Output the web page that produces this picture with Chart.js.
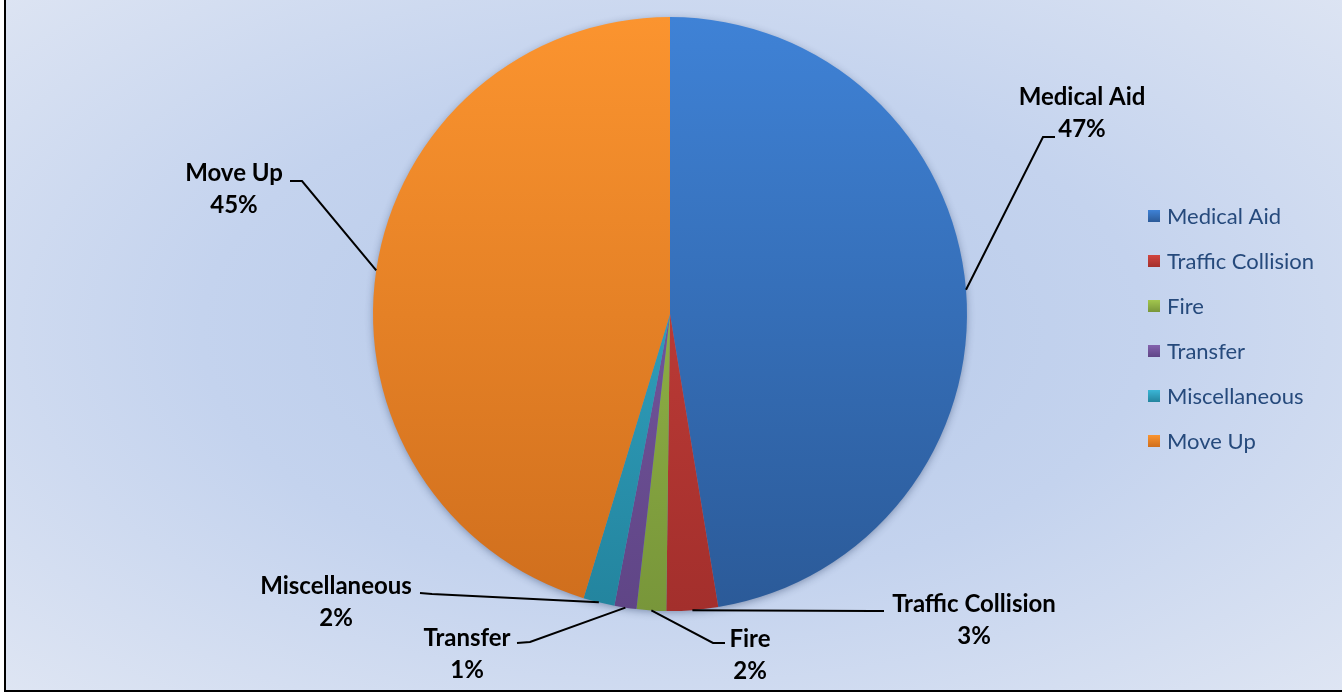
<!DOCTYPE html>
<html>
<head>
<meta charset="utf-8">
<script src="https://cdn.jsdelivr.net/npm/chart.js@4.4.0/dist/chart.umd.min.js"></script>
<style>
    html, body { margin: 0; padding: 0; background: #ffffff; }
    body { width: 1344px; height: 694px; position: relative; overflow: hidden; }
    #frame {
        position: absolute; left: 4px; top: 0; width: 1336px; height: 690px;
        border-left: 2px solid #000; border-bottom: 2px solid #000;
        background: radial-gradient(ellipse farthest-corner at 50% 48%, #b6c9e9 0%, #c4d3ee 50%, #dee5f3 100%);
    }
    #chart { position: absolute; left: 0; top: 0; }
</style>
</head>
<body>
<div id="frame"></div>
<canvas id="chart" width="1344" height="694"></canvas>
<script>
// Data (share of calls, %)
const categories = ['Medical Aid', 'Traffic Collision', 'Fire', 'Transfer', 'Miscellaneous', 'Move Up'];
const shares = [47.4, 2.8, 1.6, 1.2, 1.7, 45.3];

// Slice colours: [top, bottom] of the vertical gradient
const sliceColors = [
    ['#3f82d6', '#2b5a98'],
    ['#d2453f', '#a32f2c'],
    ['#a2c64e', '#78963a'],
    ['#8462ad', '#5f4586'],
    ['#3bb6d6', '#23849e'],
    ['#fb942f', '#cf6e1d']
];

// Where each outside label sits: first-line baseline, and leader elbow/end
const labelLayout = [
    { x: 1082, y: 105, elbow: [1043, 137], end: [1055, 137] },
    { x: 974, y: 612, elbow: [872, 611], end: [884, 611] },
    { x: 750, y: 647, elbow: [713, 643], end: [725, 643] },
    { x: 467, y: 646, elbow: [530, 642], end: [517, 643] },
    { x: 336, y: 594, elbow: [432, 594], end: [420, 593] },
    { x: 234, y: 181, elbow: [302, 181], end: [290, 181] }
];
const lineGap = 32;

const total = shares.reduce((a, b) => a + b, 0);

function sliceFill(context) {
    const chart = context.chart;
    const area = chart.chartArea;
    const pair = sliceColors[context.dataIndex];
    if (!area) return pair[0];
    const g = chart.ctx.createLinearGradient(0, area.top, 0, area.bottom);
    g.addColorStop(0, pair[0]);
    g.addColorStop(1, pair[1]);
    return g;
}

// soft shadow under the whole pie
const pieShadow = {
    id: 'pieShadow',
    beforeDatasetsDraw(chart) {
        const arc = chart.getDatasetMeta(0).data[0];
        if (!arc) return;
        const ctx = chart.ctx;
        ctx.save();
        ctx.shadowColor = 'rgba(20, 40, 80, 0.45)';
        ctx.shadowBlur = 8;
        ctx.shadowOffsetY = 2;
        ctx.fillStyle = '#6f8fbf';
        ctx.beginPath();
        ctx.arc(arc.x, arc.y, arc.outerRadius - 1, 0, Math.PI * 2);
        ctx.fill();
        ctx.restore();
    }
};

// outside labels with leader lines
const outsideLabels = {
    id: 'outsideLabels',
    afterDatasetsDraw(chart) {
        const ctx = chart.ctx;
        const arcs = chart.getDatasetMeta(0).data;
        ctx.save();
        arcs.forEach((arc, i) => {
            const lay = labelLayout[i];
            const mid = (arc.startAngle + arc.endAngle) / 2;
            const px = arc.x + Math.cos(mid) * arc.outerRadius;
            const py = arc.y + Math.sin(mid) * arc.outerRadius;
            ctx.strokeStyle = '#000';
            ctx.lineWidth = 2;
            ctx.beginPath();
            ctx.moveTo(px, py);
            ctx.lineTo(lay.elbow[0], lay.elbow[1]);
            ctx.lineTo(lay.end[0], lay.end[1]);
            ctx.stroke();

            ctx.fillStyle = '#000';
            ctx.font = 'bold 24px Lato';
            ctx.textAlign = 'center';
            ctx.textBaseline = 'alphabetic';
            ctx.fillText(categories[i], lay.x, lay.y);
            const pct = Math.round(shares[i] / total * 100) + '%';
            ctx.fillText(pct, lay.x, lay.y + lineGap);
        });
        ctx.restore();
    }
};

// legend drawn on the right
const sideLegend = {
    id: 'sideLegend',
    afterDraw(chart) {
        const ctx = chart.ctx;
        const left = 1148, top = 216, step = 45, box = 12;
        ctx.save();
        categories.forEach((name, i) => {
            const cy = top + i * step;
            const g = ctx.createLinearGradient(0, cy - box / 2, 0, cy + box / 2);
            g.addColorStop(0, sliceColors[i][0]);
            g.addColorStop(1, sliceColors[i][1]);
            ctx.fillStyle = g;
            ctx.fillRect(left, cy - box / 2, box, box);
            ctx.fillStyle = '#264a7c';
            ctx.font = '22px Lato';
            ctx.textAlign = 'left';
            ctx.textBaseline = 'middle';
            ctx.fillText(name, left + 19, cy + 1);
        });
        ctx.restore();
    }
};

const ctx = document.getElementById('chart').getContext('2d');
const pieChart = new Chart(ctx, {
    type: 'pie',
    data: {
        labels: categories,
        datasets: [{
            data: shares,
            backgroundColor: sliceFill,
            borderWidth: 0
        }]
    },
    options: {
        responsive: false,
        animation: false,
        devicePixelRatio: 1,
        layout: {
            padding: { left: 373, right: 377, top: 17, bottom: 83 }
        },
        plugins: {
            legend: { display: false },
            tooltip: { enabled: false }
        }
    },
    plugins: [pieShadow, outsideLabels, sideLegend]
});
</script>
</body>
</html>
